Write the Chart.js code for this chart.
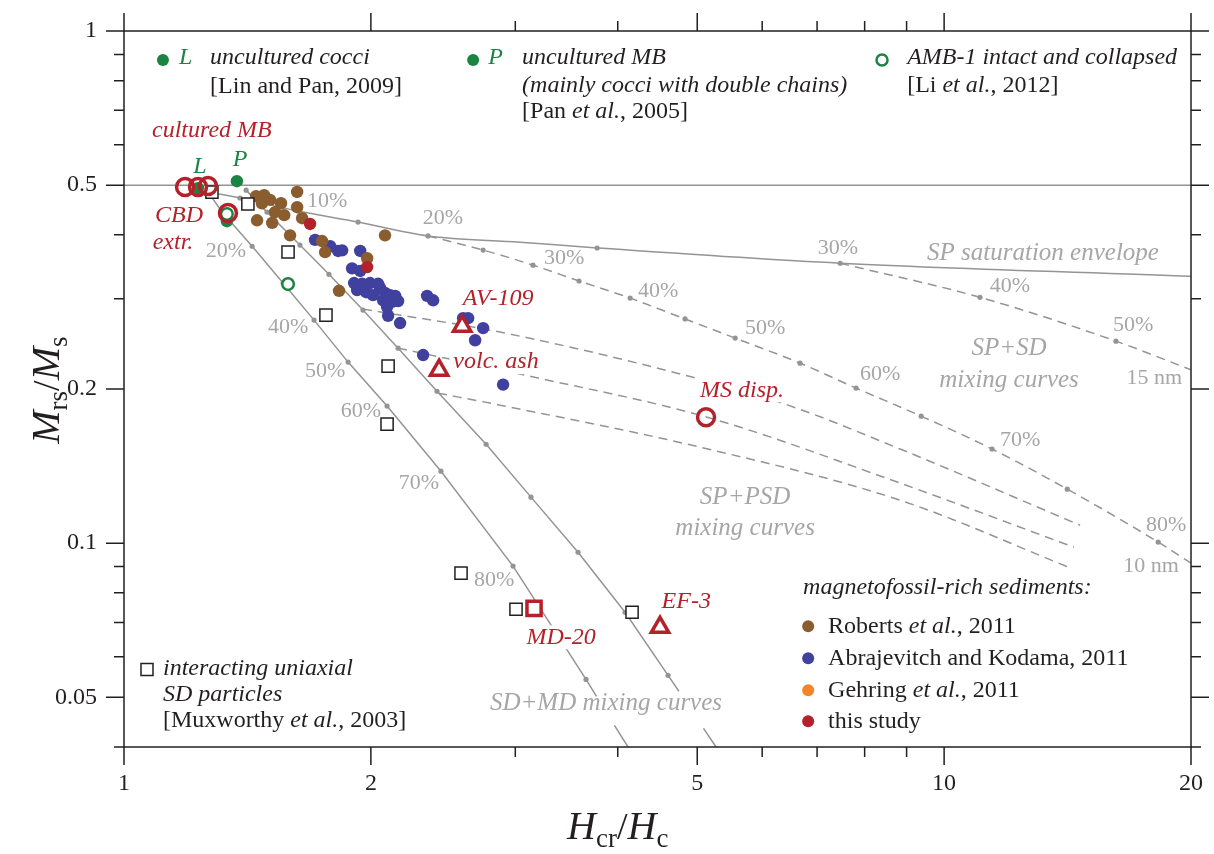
<!DOCTYPE html>
<html>
<head>
<meta charset="utf-8">
<script src="https://cdn.jsdelivr.net/npm/chart.js@4.4.1/dist/chart.umd.min.js"></script>
<style>
  body { margin: 0; background: #fff; }
  #caja { width: 1214px; height: 854px; }
</style>
</head>
<body>
<div id="caja"><canvas id="grafica"></canvas></div>
<script>
// ---- datos (Hcr/Hc , Mrs/Ms) ----
const xMayores = [1, 2, 5, 10, 20];
const xMenores = [3, 4, 6, 7, 8, 9];
const yMayores = [1, 0.5, 0.2, 0.1, 0.05];
const yMenores = [0.9, 0.8, 0.7, 0.6, 0.4, 0.3, 0.09, 0.08, 0.07, 0.06, 0.04];

// Mrs/Ms = 0.5
const limiteX = [1, 20];
const limiteY = [0.5, 0.5];

// SD+MD mixing curves (null = hueco de la etiqueta)
const sdmdIzqX = [1.259, 1.320, 1.433, 1.563, 1.705, 1.876, 2.093, 2.435, 2.981, 3.659, 3.768, 3.870, 3.963, 4.117];
const sdmdIzqY = [0.491, 0.441, 0.380, 0.322, 0.2726, 0.2257, 0.1852, 0.1382, 0.0902, 0.0542, 0.0502, null, 0.0441, 0.040];
const sdmdDerX = [1.409, 1.494, 1.639, 1.778, 1.956, 2.159, 2.408, 2.764, 3.135, 3.578, 4.083, 4.607, 4.749, 4.900, 5.088, 5.272];
const sdmdDerY = [0.489, 0.443, 0.382, 0.335, 0.2852, 0.2403, 0.198, 0.156, 0.123, 0.096, 0.0733, 0.0552, 0.0514, null, 0.0435, 0.040];

// SP saturation envelope
const envolventeX = [1.284, 1.385, 1.630, 1.929, 2.348, 3.04, 3.775, 7.47, 20];
const envolventeY = [0.483, 0.472, 0.445, 0.4236, 0.398, 0.387, 0.377, 0.352, 0.332];

// SP+SD mixing curves (10 nm y 15 nm)
const spsd10X = [2.348, 2.741, 3.153, 3.588, 4.141, 4.832, 5.562, 6.674, 7.81, 9.376, 11.44, 14.13, 18.24, 20];
const spsd10Y = [0.398, 0.3735, 0.349, 0.325, 0.301, 0.274, 0.2514, 0.2246, 0.2008, 0.177, 0.1527, 0.1275, 0.1005, 0.0914];
const spsd15X = [7.47, 11.06, 16.2, 20];
const spsd15Y = [0.352, 0.302, 0.248, 0.218];

// SP+PSD mixing curves
const psdAX = [1.956, 2.874, 4.928, 6.452, 8.838, 14.65];
const psdAY = [0.2864, 0.2583, 0.211, 0.186, 0.1527, 0.1084];
const psdBX = [2.159, 3.118, 5.14, 8.838, 14.4];
const psdBY = [0.2403, 0.212, 0.1762, 0.131, 0.0982];
const psdCX = [2.415, 2.874, 5.04, 8.838, 14.28];
const psdCY = [0.1963, 0.186, 0.154, 0.1213, 0.0894];

// sedimentos ricos en magnetofósiles
const robertsX = [1.449, 1.482, 1.507, 1.554, 1.626, 1.626, 1.568, 1.516, 1.453, 1.649, 1.594, 1.744, 1.759, 2.081, 1.979, 1.829, 1.528, 1.473];
const robertsY = [0.476, 0.478, 0.468, 0.461, 0.485, 0.453, 0.437, 0.422, 0.427, 0.431, 0.399, 0.389, 0.370, 0.399, 0.360, 0.311, 0.443, 0.461];
const abrajX = [1.710, 1.784, 1.824, 1.845, 1.941, 1.897, 1.941, 1.908, 1.951, 1.995, 2.041, 1.974, 2.052, 2.081, 2.111, 2.159, 2.070, 2.093, 2.123, 2.099, 2.171, 2.342, 2.382, 2.591, 2.628, 2.741, 2.680, 2.316, 2.899, 2.012, 2.141, 1.924];
const abrajY = [0.391, 0.380, 0.372, 0.373, 0.372, 0.344, 0.340, 0.322, 0.321, 0.322, 0.321, 0.309, 0.315, 0.308, 0.305, 0.297, 0.298, 0.289, 0.296, 0.278, 0.269, 0.304, 0.298, 0.275, 0.275, 0.263, 0.249, 0.233, 0.204, 0.305, 0.304, 0.312];
const estudioX = [1.686, 1.979];
const estudioY = [0.420, 0.346];

// Muxworthy et al. 2003
const muxX = [1.280, 1.416, 1.585, 1.763, 2.099, 2.093, 2.576, 3.006, 4.164];
const muxY = [0.4848, 0.4594, 0.3702, 0.2788, 0.2216, 0.1708, 0.0874, 0.0743, 0.0733];

// bacterias (L, P) y AMB-1
const cocosX = [1.231, 1.373, 1.335];
const cocosY = [0.4935, 0.509, 0.4252];
const ambX = [1.585, 1.335];
const ambY = [0.3205, 0.4391];

// este estudio: MB cultivadas, CBD, MS disp., AV-109, volc. ash, EF-3, MD-20
const circulosX = [1.187, 1.231, 1.266, 1.339, 5.125];
const circulosY = [0.4958, 0.4958, 0.498, 0.441, 0.1762];
const triangulosX = [2.584, 2.422, 4.504];
const triangulosY = [0.2653, 0.2177, 0.0685];
const cuadroRojoX = [3.162];
const cuadroRojoY = [0.0746];

// ---- estilos ----
const negro = "#231f20";
const gris = "#949494";
const grisTexto = "#a6a6a6";
const rojo = "#b3222a";
const verde = "#1b8443";
const cafe = "#8b5d2e";
const azul = "#40409e";
const naranja = "#f3842a";
const serif = '"Liberation Serif", "Times New Roman", serif';

const estilos = {
  pct: { c: grisTexto, s: 22, it: false },
  region: { c: grisTexto, s: 25, it: true },
  rojo: { c: rojo, s: 24, it: true },
  verde: { c: verde, s: 24, it: true },
  negro: { c: negro, s: 24, it: false },
  negroIt: { c: negro, s: 24, it: true },
};

// texto, x, y, estilo, alineación, fondo blanco
const etiquetas = [
  ["L", 1.167, 0.8857, "verde", "left"],
  ["uncultured cocci", 1.2734, 0.8857, "negroIt", "left"],
  ["[Lin and Pan, 2009]", 1.2734, 0.7772, "negro", "left"],
  ["P", 2.7797, 0.8857, "verde", "left"],
  ["uncultured MB", 3.0575, 0.8857, "negroIt", "left"],
  ["(mainly cocci with double chains)", 3.0575, 0.7807, "negroIt", "left"],
  [[["[Pan ", 0], ["et al.", 1], [", 2005]", 0]], 3.0575, 0.6945, "negro", "left"],
  ["AMB-1 intact and collapsed", 9.014, 0.8857, "negroIt", "left"],
  [[["[Li ", 0], ["et al.", 1], [", 2012]", 0]], 9.014, 0.7807, "negro", "left"],
  ["cultured MB", 1.0818, 0.6379, "rojo", "left"],
  ["L", 1.238, 0.5425, "verde", "center"],
  ["P", 1.3853, 0.56, "verde", "center"],
  ["CBD", 1.167, 0.4351, "rojo", "center"],
  ["extr.", 1.1475, 0.3855, "rojo", "center"],
  ["AV-109", 2.858, 0.2996, "rojo", "center"],
  ["volc. ash", 2.842, 0.2257, "rojo", "center", true],
  ["MS disp.", 5.671, 0.1989, "rojo", "center", true],
  ["EF-3", 4.848, 0.077, "rojo", "center"],
  ["MD-20", 3.412, 0.0655, "rojo", "center", true],
  ["10%", 1.769, 0.4656, "pct", "center"],
  ["20%", 1.3312, 0.3718, "pct", "center"],
  ["20%", 2.449, 0.4313, "pct", "center"],
  ["30%", 3.441, 0.3602, "pct", "center"],
  ["30%", 7.424, 0.3769, "pct", "center"],
  ["40%", 1.585, 0.2642, "pct", "center"],
  ["40%", 4.479, 0.3105, "pct", "center"],
  ["40%", 12.03, 0.3177, "pct", "center"],
  ["50%", 1.7588, 0.2168, "pct", "center"],
  ["50%", 6.049, 0.263, "pct", "center"],
  ["50%", 17.0, 0.2665, "pct", "center"],
  ["60%", 1.9454, 0.1811, "pct", "center"],
  ["60%", 8.356, 0.2138, "pct", "center"],
  ["70%", 2.289, 0.131, "pct", "center"],
  ["70%", 12.38, 0.159, "pct", "center"],
  ["80%", 2.827, 0.0847, "pct", "center"],
  ["80%", 18.65, 0.1084, "pct", "center"],
  ["15 nm", 18.04, 0.21, "pct", "center"],
  ["10 nm", 17.88, 0.0902, "pct", "center"],
  ["SP saturation envelope", 13.2, 0.3684, "region", "center"],
  ["SP+SD", 12.0, 0.2403, "region", "center"],
  ["mixing curves", 12.0, 0.2081, "region", "center"],
  ["SP+PSD", 5.719, 0.123, "region", "center"],
  ["mixing curves", 5.719, 0.1069, "region", "center"],
  ["SD+MD mixing curves", 3.87, 0.0487, "region", "center"],
  ["magnetofossil-rich sediments:", 6.73, 0.082, "negroIt", "left"],
  [[["Roberts ", 0], ["et al.", 1], [", 2011", 0]], 7.22, 0.0688, "negro", "left"],
  ["Abrajevitch and Kodama, 2011", 7.22, 0.0596, "negro", "left"],
  [[["Gehring ", 0], ["et al.", 1], [", 2011", 0]], 7.22, 0.0516, "negro", "left"],
  ["this study", 7.22, 0.0449, "negro", "left"],
  ["interacting uniaxial", 1.1156, 0.057, "negroIt", "left"],
  ["SD particles", 1.1156, 0.0507, "negroIt", "left"],
  [[["[Muxworthy ", 0], ["et al.", 1], [", 2003]", 0]], 1.1156, 0.0451, "negro", "left"],
];

// marcadores de leyenda: x, y, tipo, color
const marcadores = [
  [1.1156, 0.8777, "punto", verde],
  [2.6652, 0.8777, "punto", verde],
  [8.40, 0.8777, "anillo", verde],
  [6.827, 0.0688, "punto", cafe],
  [6.827, 0.0596, "punto", azul],
  [6.827, 0.0516, "punto", naranja],
  [6.827, 0.0449, "punto", rojo],
  [1.0667, 0.0567, "cuadro", negro],
];

function pares(xs, ys) {
  return xs.map((v, i) => ({ x: v, y: ys[i] }));
}

function curva(xs, ys, nodos, rayada, suave) {
  return {
    data: pares(xs, ys),
    showLine: true,
    borderColor: gris,
    borderWidth: 1.5,
    borderDash: rayada ? [9, 6] : [],
    pointRadius: (c) => (nodos.includes(c.dataIndex) ? 2.6 : 0),
    pointBackgroundColor: gris,
    pointBorderWidth: 0,
    cubicInterpolationMode: suave ? "monotone" : "default",
    tension: 0,
    spanGaps: false,
    order: 20,
  };
}

function puntos(xs, ys, opciones) {
  return Object.assign({ data: pares(xs, ys), showLine: false }, opciones);
}

function fuente(e, italica, tam) {
  return (italica ? "italic " : "") + (tam || e.s) + "px " + serif;
}

function escribir(ctx, partes, x, y, alinear) {
  let ancho = 0;
  partes.forEach((p) => { ctx.font = p.f; ancho += ctx.measureText(p.t).width; });
  const x0 = alinear === "center" ? x - ancho / 2 : x;
  let cx = x0;
  ctx.textAlign = "left";
  partes.forEach((p) => {
    ctx.font = p.f;
    ctx.fillStyle = p.c;
    ctx.fillText(p.t, cx, y + (p.dy || 0));
    cx += ctx.measureText(p.t).width;
  });
  return { x0, ancho };
}

const anotaciones = {
  id: "anotaciones",
  afterDatasetsDraw(chart) {
    const { ctx, scales: { x, y } } = chart;
    ctx.save();
    ctx.textBaseline = "middle";
    etiquetas.forEach(([t, vx, vy, est, al, fondo]) => {
      const e = estilos[est];
      const partes = Array.isArray(t)
        ? t.map(([s, it]) => ({ t: s, f: fuente(e, it || e.it), c: e.c }))
        : [{ t, f: fuente(e, e.it), c: e.c }];
      const px = x.getPixelForValue(vx), py = y.getPixelForValue(vy);
      if (fondo) {
        let w = 0;
        partes.forEach((p) => { ctx.font = p.f; w += ctx.measureText(p.t).width; });
        ctx.fillStyle = "#fff";
        ctx.fillRect(px - w / 2 - 4, py - 12, w + 8, 24);
      }
      escribir(ctx, partes, px, py, al);
    });
    marcadores.forEach(([vx, vy, tipo, color]) => {
      const px = x.getPixelForValue(vx), py = y.getPixelForValue(vy);
      ctx.beginPath();
      if (tipo === "cuadro") {
        ctx.fillStyle = "#fff";
        ctx.strokeStyle = color;
        ctx.lineWidth = 1.5;
        ctx.rect(px - 6, py - 6, 12, 12);
        ctx.fill();
        ctx.stroke();
      } else if (tipo === "anillo") {
        ctx.arc(px, py, 5.5, 0, Math.PI * 2);
        ctx.strokeStyle = color;
        ctx.lineWidth = 2.5;
        ctx.stroke();
      } else {
        ctx.arc(px, py, 6, 0, Math.PI * 2);
        ctx.fillStyle = color;
        ctx.fill();
      }
    });
    ctx.restore();
  },
  afterDraw(chart) {
    const { ctx, chartArea: a, scales: { x, y } } = chart;
    ctx.save();
    ctx.strokeStyle = negro;
    ctx.lineWidth = 1.5;
    ctx.strokeRect(a.left, a.top, a.right - a.left, a.bottom - a.top);
    ctx.beginPath();
    const marcaX = (v, largo) => {
      const p = x.getPixelForValue(v);
      ctx.moveTo(p, a.bottom); ctx.lineTo(p, a.bottom + largo);
      ctx.moveTo(p, a.top); ctx.lineTo(p, a.top - largo);
    };
    const marcaY = (v, largo) => {
      const p = y.getPixelForValue(v);
      ctx.moveTo(a.left, p); ctx.lineTo(a.left - largo, p);
      ctx.moveTo(a.right, p); ctx.lineTo(a.right + largo, p);
    };
    xMayores.forEach((v) => marcaX(v, 18));
    xMenores.forEach((v) => marcaX(v, 10));
    yMayores.forEach((v) => marcaY(v, 18));
    yMenores.forEach((v) => marcaY(v, 10));
    ctx.stroke();

    // títulos de ejes
    ctx.textBaseline = "alphabetic";
    const grande = "italic 40px " + serif, sub = "27px " + serif, barra = "38px " + serif;
    escribir(ctx, [
      { t: "H", f: grande, c: negro },
      { t: "cr", f: sub, c: negro, dy: 8 },
      { t: "/", f: barra, c: negro },
      { t: "H", f: grande, c: negro },
      { t: "c", f: sub, c: negro, dy: 8 },
    ], x.getPixelForValue(4.0), a.bottom + 92, "center");
    ctx.translate(59, y.getPixelForValue(0.199));
    ctx.rotate(-Math.PI / 2);
    escribir(ctx, [
      { t: "M", f: grande, c: negro },
      { t: "rs", f: sub, c: negro, dy: 8 },
      { t: "/", f: barra, c: negro },
      { t: "M", f: grande, c: negro },
      { t: "s", f: sub, c: negro, dy: 8 },
    ], 0, 0, "center");
    ctx.restore();
  },
};

const grafica = document.getElementById("grafica");

new Chart(grafica, {
  type: "scatter",
  data: {
    datasets: [
      curva(limiteX, limiteY, [], false, false),
      curva(sdmdIzqX, sdmdIzqY, [1, 2, 3, 4, 5, 6, 7, 8, 9], false, false),
      curva(sdmdDerX, sdmdDerY, [0, 1, 2, 3, 4, 5, 6, 7, 8, 9, 10, 11], false, false),
      curva(envolventeX, envolventeY, [1, 2, 3, 4, 6, 7], false, true),
      curva(spsd10X, spsd10Y, [1, 2, 3, 4, 5, 6, 7, 8, 9, 10, 11, 12], true, true),
      curva(spsd15X, spsd15Y, [1, 2], true, true),
      curva(psdAX, psdAY, [], true, true),
      curva(psdBX, psdBY, [], true, true),
      curva(psdCX, psdCY, [], true, true),
      puntos(abrajX, abrajY, { pointRadius: 6.2, pointBackgroundColor: azul, pointBorderWidth: 0, order: 9 }),
      puntos(robertsX, robertsY, { pointRadius: 6.2, pointBackgroundColor: cafe, pointBorderWidth: 0, order: 8 }),
      puntos(estudioX, estudioY, { pointRadius: 6.2, pointBackgroundColor: rojo, pointBorderWidth: 0, order: 7 }),
      puntos(muxX, muxY, { pointStyle: "rect", pointRadius: 8.6, pointBackgroundColor: "#fff", pointBorderColor: negro, pointBorderWidth: 1.5, order: 6 }),
      puntos(cocosX, cocosY, { pointRadius: 6.2, pointBackgroundColor: verde, pointBorderWidth: 0, order: 5 }),
      puntos(ambX, ambY, { pointRadius: 5.8, pointBackgroundColor: "#fff", pointBorderColor: verde, pointBorderWidth: 2.5, order: 4 }),
      puntos(circulosX, circulosY, { pointRadius: 8.5, pointBackgroundColor: "rgba(255,255,255,0)", pointBorderColor: rojo, pointBorderWidth: 3.5, order: 3 }),
      puntos(triangulosX, triangulosY, { pointStyle: "triangle", pointRadius: 10, pointBackgroundColor: "#fff", pointBorderColor: rojo, pointBorderWidth: 3.5, order: 2 }),
      puntos(cuadroRojoX, cuadroRojoY, { pointStyle: "rect", pointRadius: 10, pointBackgroundColor: "#fff", pointBorderColor: rojo, pointBorderWidth: 3.5, order: 1 }),
    ],
  },
  options: {
    responsive: true,
    maintainAspectRatio: false,
    animation: false,
    events: [],
    layout: { padding: { top: 31, right: 23, left: 0, bottom: 0 } },
    plugins: { legend: { display: false }, tooltip: { enabled: false } },
    scales: {
      x: {
        type: "logarithmic",
        min: 1,
        max: 20,
        afterBuildTicks: (s) => { s.ticks = xMayores.map((v) => ({ value: v })); },
        afterFit: (s) => { s.height = 107; s.paddingLeft = 0; s.paddingRight = 0; },
        grid: { display: false, drawTicks: false },
        border: { display: false },
        ticks: { autoSkip: false, maxRotation: 0, padding: 22, color: negro, font: { family: serif, size: 24 }, callback: (v) => String(v) },
      },
      y: {
        type: "logarithmic",
        min: 0.04,
        max: 1,
        afterBuildTicks: (s) => { s.ticks = yMayores.map((v) => ({ value: v })); },
        afterFit: (s) => { s.width = 124; s.paddingTop = 0; s.paddingBottom = 0; },
        grid: { display: false, drawTicks: false },
        border: { display: false },
        ticks: { autoSkip: false, padding: 27, color: negro, font: { family: serif, size: 24 }, callback: (v) => String(v) },
      },
    },
  },
  plugins: [anotaciones],
});
</script>
</body>
</html>
